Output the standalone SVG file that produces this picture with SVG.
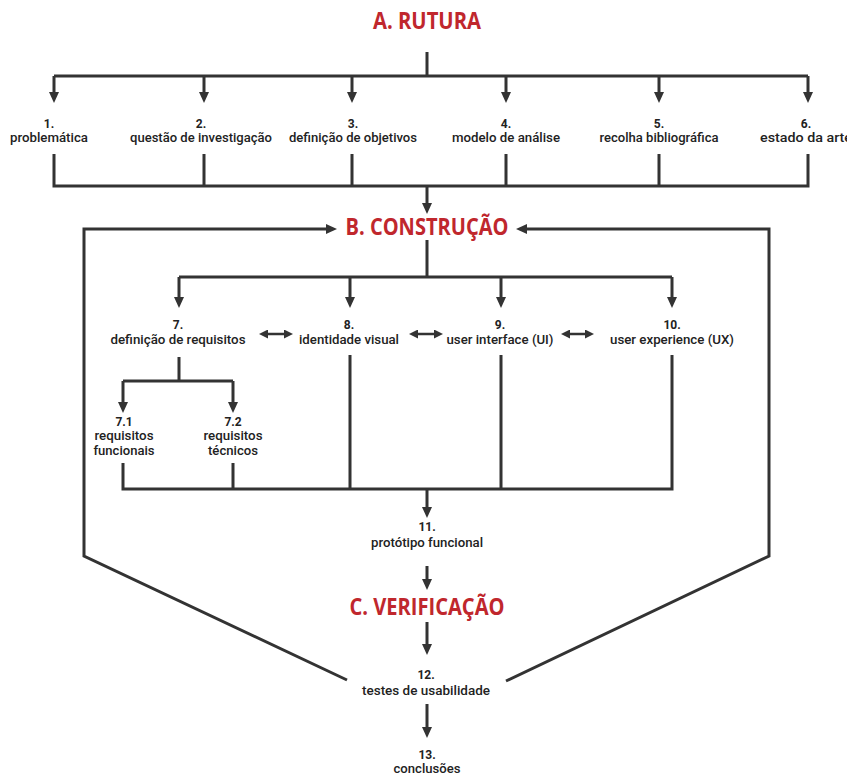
<svg xmlns="http://www.w3.org/2000/svg" width="847" height="776" viewBox="0 0 847 776">
  <defs>
    <marker id="head" viewBox="0 0 11 10" markerUnits="userSpaceOnUse" markerWidth="11" markerHeight="10" refX="3" refY="5" orient="auto-start-reverse">
      <path d="M0,0 L11,5 L0,10 z" fill="#333"/>
    </marker>
    <marker id="small" viewBox="0 0 9 9" markerUnits="userSpaceOnUse" markerWidth="9" markerHeight="9" refX="3" refY="4.5" orient="auto-start-reverse">
      <path d="M0,0 L9,4.5 L0,9 z" fill="#333"/>
    </marker>
  </defs>
  <style>
    .ln { fill: none; stroke: #333; stroke-width: 3; stroke-linejoin: miter; }
    .arr { marker-end: url(#head); }
    .dbl { fill: none; stroke: #333; stroke-width: 2.5; marker-start: url(#small); marker-end: url(#small); }
    .lbl { font-family: Roboto, "Liberation Sans", Arial, sans-serif; font-weight: 500; font-size: 12px; fill: #222; text-anchor: middle; }
    .num { font-weight: 700; }
    .phase { font-family: "Open Sans", "Liberation Sans", sans-serif; font-weight: 700; font-size: 23px; fill: #c0272d; text-anchor: middle; }
  </style>
  <rect width="847" height="776" fill="#fff"/>

  <g id="connectors">
    <!-- phase A fan-out -->
    <path class="ln" d="M427,52 V76 M54,76 H808"/>
    <path class="ln arr" d="M54,76 V95"/>
    <path class="ln arr" d="M204,76 V95"/>
    <path class="ln arr" d="M352,76 V95"/>
    <path class="ln arr" d="M506,76 V95"/>
    <path class="ln arr" d="M659,76 V95"/>
    <path class="ln arr" d="M808,76 V95"/>
    <!-- phase A fan-in -->
    <path class="ln" d="M54,154 V186 H808 V154 M204,154 V186 M352,154 V186 M506,154 V186 M659,154 V186"/>
    <path class="ln arr" d="M427,186 V206"/>
    <!-- feedback loops back to B -->
    <path class="ln arr" d="M347,680 L84,556 V229 H329"/>
    <path class="ln arr" d="M506,681 L769,556 V229 H524"/>
    <!-- phase B fan-out -->
    <path class="ln" d="M427,240 V277 M179,277 H672"/>
    <path class="ln arr" d="M179,277 V300"/>
    <path class="ln arr" d="M350,277 V300"/>
    <path class="ln arr" d="M501,277 V300"/>
    <path class="ln arr" d="M672,277 V300"/>
    <!-- mutual relations -->
    <path class="dbl" d="M265,334 H287"/>
    <path class="dbl" d="M415,334 H437"/>
    <path class="dbl" d="M567,334 H588"/>
    <!-- requirements split -->
    <path class="ln" d="M179,357 V381 M123,381 H233"/>
    <path class="ln arr" d="M123,381 V405"/>
    <path class="ln arr" d="M233,381 V405"/>
    <!-- phase B fan-in -->
    <path class="ln" d="M123,463 V489 H672 V355 M233,463 V489 M350,355 V489 M501,355 V489"/>
    <path class="ln arr" d="M427,489 V510"/>
    <!-- C sequence -->
    <path class="ln arr" d="M427,566 V582"/>
    <path class="ln arr" d="M427,622 V647"/>
    <path class="ln arr" d="M427,704 V730"/>
  </g>

  <g id="phase-a"><text class="phase" x="427" y="29" textLength="108" lengthAdjust="spacingAndGlyphs">A. RUTURA</text></g>
  <g id="phase-b"><text class="phase" x="427" y="235" textLength="163" lengthAdjust="spacingAndGlyphs">B. CONSTRUÇÃO</text></g>
  <g id="phase-c"><text class="phase" x="427" y="615" textLength="155" lengthAdjust="spacingAndGlyphs">C. VERIFICAÇÃO</text></g>

  <g id="n1"><text class="lbl num" x="49" y="128">1.</text><text class="lbl" x="49" y="142" textLength="78" lengthAdjust="spacingAndGlyphs">problemática</text></g>
  <g id="n2"><text class="lbl num" x="201" y="128">2.</text><text class="lbl" x="201" y="142" textLength="142" lengthAdjust="spacingAndGlyphs">questão de investigação</text></g>
  <g id="n3"><text class="lbl num" x="353" y="128">3.</text><text class="lbl" x="353" y="142" textLength="128" lengthAdjust="spacingAndGlyphs">definição de objetivos</text></g>
  <g id="n4"><text class="lbl num" x="506" y="128">4.</text><text class="lbl" x="506" y="142" textLength="108" lengthAdjust="spacingAndGlyphs">modelo de análise</text></g>
  <g id="n5"><text class="lbl num" x="659" y="128">5.</text><text class="lbl" x="659" y="142" textLength="119" lengthAdjust="spacingAndGlyphs">recolha bibliográfica</text></g>
  <g id="n6"><text class="lbl num" x="806" y="128">6.</text><text class="lbl" x="806" y="142" textLength="92" lengthAdjust="spacingAndGlyphs">estado da arte</text></g>

  <g id="n7"><text class="lbl num" x="178" y="329">7.</text><text class="lbl" x="178" y="344" textLength="135" lengthAdjust="spacingAndGlyphs">definição de requisitos</text></g>
  <g id="n8"><text class="lbl num" x="349" y="329">8.</text><text class="lbl" x="349" y="344" textLength="100" lengthAdjust="spacingAndGlyphs">identidade visual</text></g>
  <g id="n9"><text class="lbl num" x="500" y="329">9.</text><text class="lbl" x="500" y="344" textLength="107" lengthAdjust="spacingAndGlyphs">user interface (UI)</text></g>
  <g id="n10"><text class="lbl num" x="672" y="329">10.</text><text class="lbl" x="672" y="344" textLength="124" lengthAdjust="spacingAndGlyphs">user experience (UX)</text></g>

  <g id="n7-1"><text class="lbl num" x="124" y="426">7.1</text><text class="lbl" x="124" y="440" textLength="59" lengthAdjust="spacingAndGlyphs">requisitos</text><text class="lbl" x="124" y="455" textLength="61" lengthAdjust="spacingAndGlyphs">funcionais</text></g>
  <g id="n7-2"><text class="lbl num" x="233" y="426">7.2</text><text class="lbl" x="233" y="440" textLength="59" lengthAdjust="spacingAndGlyphs">requisitos</text><text class="lbl" x="233" y="455" textLength="50" lengthAdjust="spacingAndGlyphs">técnicos</text></g>

  <g id="n11"><text class="lbl num" x="427" y="531">11.</text><text class="lbl" x="427" y="547" textLength="112" lengthAdjust="spacingAndGlyphs">protótipo funcional</text></g>
  <g id="n12"><text class="lbl num" x="426" y="679">12.</text><text class="lbl" x="426" y="695" textLength="128" lengthAdjust="spacingAndGlyphs">testes de usabilidade</text></g>
  <g id="n13"><text class="lbl num" x="427" y="759">13.</text><text class="lbl" x="427" y="773" textLength="67" lengthAdjust="spacingAndGlyphs">conclusões</text></g>
</svg>
